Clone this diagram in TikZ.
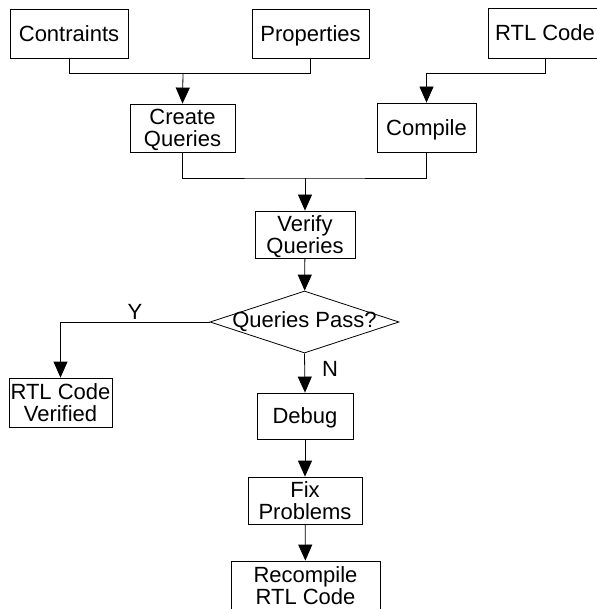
\documentclass[tikz,border=0pt]{standalone}
\usepackage{fontspec}
\setmainfont{Liberation Sans}
\usetikzlibrary{arrows.meta,shapes.geometric}
\tikzset{font=\fontsize{22}{22}\selectfont}
\tikzset{box/.style={draw,inner sep=0pt,align=center,text depth=0pt}}
\tikzset{decision/.style={draw,diamond,inner sep=0pt,minimum width=189pt,minimum height=62pt}}
\tikzset{arr/.style={-{Triangle[length=16pt,width=14pt]}}}
\tikzset{answer/.style={inner sep=2pt}}

\begin{document}
\begin{tikzpicture}[x=1pt,y=-1pt,line width=0.8pt]
  \useasboundingbox (0,0) rectangle (596,609);
  % inputs
  \node[box,minimum width=118pt,minimum height=49pt] (con) at (69,33.5) {Contraints};
  \node[box,minimum width=117pt,minimum height=49pt] (prop) at (310.5,33.5) {Properties};
  \node[box,minimum width=114pt,minimum height=50pt] (rtl) at (545,33) {RTL Code};
  % preparation
  \node[box,minimum width=105pt,minimum height=48pt] (create) at (182.5,128) {Create\\Queries};
  \node[box,minimum width=99pt,minimum height=49pt] (compile) at (426.5,127.5) {Compile};
  \node[box,minimum width=100pt,minimum height=47pt] (verify) at (305,234.5) {Verify\\Queries};
  \node[decision] (pass) at (304.5,322) {\makebox[0pt]{Queries Pass?}};
  % outcomes
  \node[box,minimum width=103pt,minimum height=49pt] (done) at (60.5,402.5) {RTL Code\\Verified};
  \node[box,minimum width=96pt,minimum height=46pt] (debug) at (305,416) {Debug};
  \node[box,minimum width=114pt,minimum height=47pt] (fix) at (305,500.5) {Fix\\Problems};
  \node[box,minimum width=149pt,minimum height=50pt] (recomp) at (305.5,586) {Recompile\\RTL Code};

  \coordinate (topjoin) at (183,73);
  \coordinate (midjoin) at (305,178);
  \draw (con.south) |- (prop.south |- topjoin) -- (prop.south);
  \draw[arr] (topjoin) -- (create.north);
  \draw[arr] (rtl.south) |- (compile.north |- topjoin) -- (compile.north);
  \draw (create.south) |- (midjoin) -| (compile.south);
  \draw[arr] (midjoin) -- (verify.north);
  \draw[arr] (verify) -- (pass);
  \draw[arr] (pass.west) -| node[answer,pos=0.25,above] {Y} (done.north);
  \draw[arr] (pass.south) -- node[answer,pos=0.4,right,xshift=15pt] {N} (debug.north);
  \draw[arr] (debug) -- (fix);
  \draw[arr] (fix) -- (recomp);
\end{tikzpicture}
\end{document}
